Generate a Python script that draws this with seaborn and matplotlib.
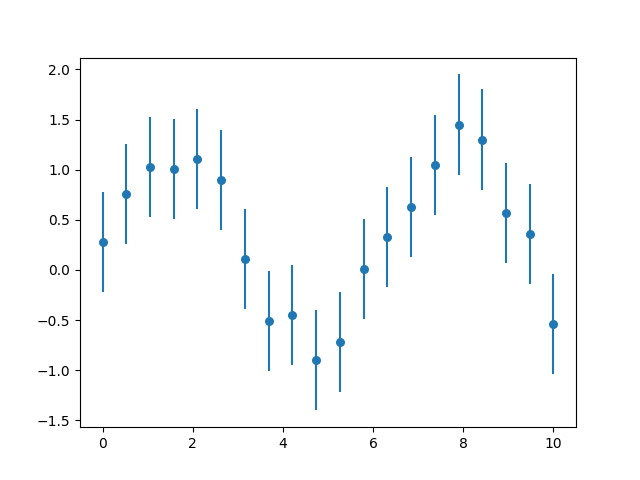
import matplotlib
matplotlib.use("Agg")
import matplotlib.pyplot as plt
import numpy as np
import pandas as pd
import seaborn as sns

# values
x_vals = [0.0, 0.526, 1.053, 1.579, 2.105, 2.632, 3.158, 3.684, 4.211, 4.737,
          5.263, 5.789, 6.316, 6.842, 7.368, 7.895, 8.421, 8.947, 9.474, 10.0]
y_vals = [0.28, 0.76, 1.03, 1.01, 1.11, 0.90, 0.11, -0.51, -0.45, -0.90,
          -0.72, 0.01, 0.33, 0.63, 1.05, 1.45, 1.30, 0.57, 0.36, -0.54]
y_err = [0.5] * len(x_vals)

df = pd.DataFrame({"x": x_vals, "y": y_vals, "err": y_err})

fig, ax = plt.subplots(figsize=(6.4, 4.8), dpi=100)
ax.errorbar(df["x"], df["y"], yerr=df["err"], fmt="none", ecolor="#1f77b4", elinewidth=1.5)
sns.scatterplot(data=df, x="x", y="y", ax=ax, color="#1f77b4", s=42, linewidth=0, zorder=3)
ax.set_xlabel("")
ax.set_ylabel("")

fig.savefig("out.png")
